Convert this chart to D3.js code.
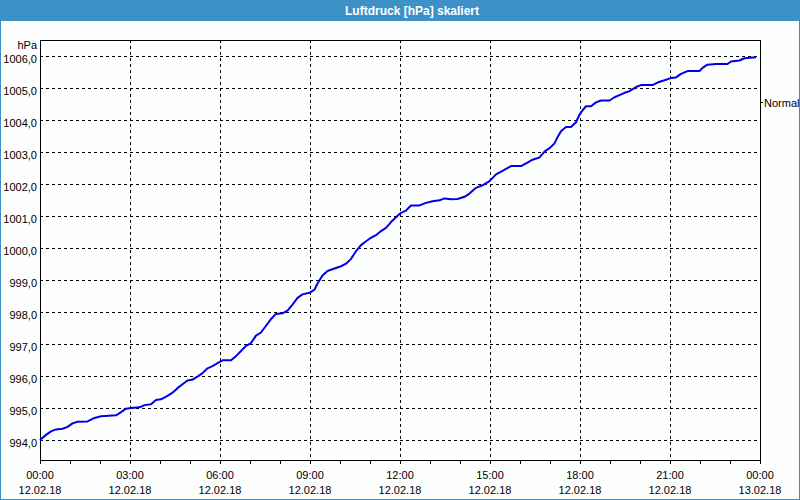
<!DOCTYPE html>
<html>
<head>
<meta charset="utf-8">
<script src="https://cdn.jsdelivr.net/npm/d3@7"></script>
<style>
  html, body { margin: 0; padding: 0; background: #ffffff; }
  svg { display: block; }
</style>
</head>
<body>
<script>
// ---- data ----
const title = "Luftdruck [hPa] skaliert";
const unitLabel = "hPa";
const seriesName = "Normal";
// minutes since 12.02.18 00:00
const minutes = [0,12,22,32,45,55,65,75,95,109,122,152,162,172,182,199,209,222,232,242,255,265,275,285,295,304,315,325,335,345,355,
  365,382,392,402,412,422,432,442,452,462,472,485,495,505,515,525,539,549,555,565,575,589,602,612,622,632,642,652,662,672,682,692,702,712,722,732,
  742,759,772,785,799,809,822,835,849,859,872,885,899,912,925,942,962,975,985,999,1009,1019,1029,1035,1042,1052,1062,1072,1079,1085,1092,
  1102,1112,1122,1139,1149,1159,1169,1179,1192,1202,1225,1235,1249,1262,1272,1282,1295,1319,1325,1335,1352,1375,1382,1399,1409,1432];
const pressure = [994.00,994.16,994.27,994.33,994.35,994.41,994.52,994.57,994.58,994.69,994.74,994.77,994.87,994.98,995.00,995.02,995.09,995.12,995.25,995.27,995.38,995.48,995.62,995.74,995.86,995.88,995.98,996.09,996.24,996.31,996.40,
  996.49,996.49,996.62,996.78,996.94,997.03,997.26,997.36,997.57,997.78,997.94,997.96,998.04,998.23,998.44,998.55,998.60,998.70,998.89,999.14,999.28,999.36,999.43,999.51,999.66,999.90,1000.09,1000.21,1000.32,1000.40,1000.53,1000.63,1000.81,1000.96,1001.10,1001.17,
  1001.33,1001.33,1001.41,1001.46,1001.49,1001.55,1001.52,1001.53,1001.60,1001.70,1001.88,1001.96,1002.09,1002.30,1002.41,1002.56,1002.56,1002.67,1002.76,1002.83,1003.01,1003.12,1003.27,1003.46,1003.65,1003.78,1003.78,1003.93,1004.17,1004.30,1004.43,
  1004.43,1004.55,1004.61,1004.61,1004.71,1004.78,1004.85,1004.90,1005.03,1005.09,1005.09,1005.17,1005.24,1005.31,1005.33,1005.44,1005.53,1005.53,1005.63,1005.73,1005.75,1005.75,1005.83,1005.86,1005.93,1005.96];
const yTicks = [994,995,996,997,998,999,1000,1001,1002,1003,1004,1005,1006];
const xLabelMinutes = [0,180,360,540,720,900,1080,1260,1440];
const xTimeLabels = ["00:00","03:00","06:00","09:00","12:00","15:00","18:00","21:00","00:00"];
const xDateLabels = ["12.02.18","12.02.18","12.02.18","12.02.18","12.02.18","12.02.18","12.02.18","12.02.18","13.02.18"];
const xMinorMinutes = d3.range(0, 1441, 60);

(function () {
// ---- layout ----
const W = 800, H = 500;
const blue = "#3d91c7";
const font = "'Liberation Sans', Arial, sans-serif";
const pL = 40, pR = 760, pT = 40, pB = 460;
const dash = "3,3";

const svg = d3.select("body").append("svg").attr("width", W).attr("height", H)
  .style("font-family", font);

svg.append("rect").attr("x", 0.5).attr("y", 0.5).attr("width", W - 1).attr("height", H - 1)
  .attr("fill", "#fdfefe").attr("stroke", blue);
svg.append("rect").attr("x", 0).attr("y", 0).attr("width", W).attr("height", 21).attr("fill", blue);
svg.append("text").attr("x", 412).attr("y", 14.5).attr("text-anchor", "middle")
  .attr("fill", "#ffffff").attr("font-weight", "bold").attr("font-size", 12).text(title);

const x = d3.scaleLinear().domain([0, 1440]).range([pL, pR]);
const y = d3.scaleLinear().domain([994, 1006]).range([440, 56]);

// horizontal grid + y labels
const yAxis = d3.axisLeft(y).tickValues(yTicks).tickSize(-(pR - pL)).tickPadding(3)
  .tickFormat(d => d3.format(".1f")(d).replace(".", ","));
const gy = svg.append("g").attr("transform", `translate(${pL},0)`).call(yAxis);
gy.select(".domain").remove();
gy.selectAll(".tick line").attr("stroke", "#000").attr("stroke-dasharray", dash)
  .attr("shape-rendering", "crispEdges");
gy.selectAll(".tick text").attr("font-size", 11).attr("font-family", font).attr("fill", "#000")
  .attr("dy", "0.6em");

// vertical grid
svg.append("g").selectAll("line").data(xLabelMinutes.slice(1, -1)).join("line")
  .attr("x1", d => Math.round(x(d)) + 0.5).attr("x2", d => Math.round(x(d)) + 0.5)
  .attr("y1", pT).attr("y2", pB)
  .attr("stroke", "#000").attr("stroke-dasharray", dash).attr("shape-rendering", "crispEdges");

// bottom ticks
const xAxis = d3.axisBottom(x).tickValues(xMinorMinutes).tickSize(4).tickFormat("");
const gx = svg.append("g").attr("transform", `translate(0,${pB})`).call(xAxis);
gx.select(".domain").remove();
gx.selectAll(".tick line").attr("stroke", "#000");

// frame
svg.append("rect").attr("x", pL + 0.5).attr("y", pT + 0.5)
  .attr("width", pR - pL).attr("height", pB - pT)
  .attr("fill", "none").attr("stroke", "#000");

// x labels
const xl = svg.append("g").attr("font-size", 11).attr("text-anchor", "middle").attr("fill", "#000");
xl.selectAll("text.t").data(xLabelMinutes).join("text").attr("class", "t")
  .attr("x", d => x(d)).attr("y", 479).text((d, i) => xTimeLabels[i]);
xl.selectAll("text.d").data(xLabelMinutes).join("text").attr("class", "d")
  .attr("x", d => x(d)).attr("y", 494).text((d, i) => xDateLabels[i]);

// unit label
svg.append("text").attr("x", 37).attr("y", 49).attr("text-anchor", "end")
  .attr("font-size", 11).attr("fill", "#000").text(unitLabel);

// line
const data = minutes.map((m, i) => ({ m, v: pressure[i] }));
svg.append("path").datum(data)
  .attr("fill", "none").attr("stroke", "#0000e6").attr("stroke-width", 2)
  .attr("stroke-linejoin", "round")
  .attr("d", d3.line().x(d => x(d.m)).y(d => y(d.v)));

// legend
svg.append("line").attr("x1", 761).attr("x2", 763).attr("y1", 102.5).attr("y2", 102.5).attr("stroke", "#000");
svg.append("text").attr("x", 764).attr("y", 107).attr("font-size", 11).attr("fill", "#000").text(seriesName);
})();
</script>
</body>
</html>
